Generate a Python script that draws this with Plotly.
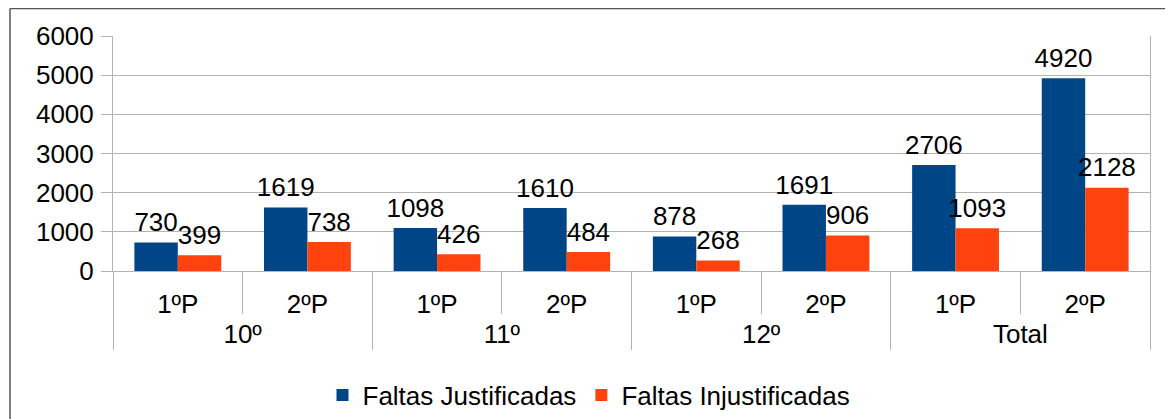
import plotly.graph_objects as go

# data
anos = ["10º", "10º", "11º", "11º", "12º", "12º", "Total", "Total"]
periodos = ["1ºP", "2ºP", "1ºP", "2ºP", "1ºP", "2ºP", "1ºP", "2ºP"]
justificadas = [730, 1619, 1098, 1610, 878, 1691, 2706, 4920]
injustificadas = [399, 738, 426, 484, 268, 906, 1093, 2128]

FONT = "Liberation Sans"
FS = 26
GRID = "#b3b3b3"

# a taller (invisible) space on both sides of the inner labels pushes the
# outer level (10º, 11º...) a bit further down, like in LibreOffice
esp = '<span style="font-size:34px"> </span>'
periodos_txt = [esp + p + esp for p in periodos]
xcat = [anos, periodos_txt]

series = [
    ("Faltas Justificadas", justificadas, "#004586"),
    ("Faltas Injustificadas", injustificadas, "#ff420e"),
]

fig = go.Figure()
for i, (nome, vals, cor) in enumerate(series):
    fig.add_trace(go.Bar(
        x=xcat, y=vals, name=nome,
        marker_color=cor, marker_line_width=0, offsetgroup=str(i),
    ))
# value labels: small invisible markers keep the text a bit above the bar
for i, (nome, vals, cor) in enumerate(series):
    fig.add_trace(go.Scatter(
        x=xcat, y=vals, mode="markers+text", showlegend=False,
        text=[str(v) for v in vals], textposition="top center",
        textfont=dict(size=FS, color="black"), offsetgroup=str(i),
        marker=dict(size=6, opacity=0), cliponaxis=False, hoverinfo="skip",
    ))

# the page has an 8px body margin, so work in window pixels and shift
W, H = 1173, 419
OFF = 8
FW, FH = W - OFF, H - OFF
# plot area in window pixels
L, R, T, B = 113, 1150, 35.5, 271.5
pw, ph = R - L, B - T

def px(x):
    return (x - L) / pw

def py(y):
    return (B - y) / ph

fig.update_layout(
    width=FW, height=FH,
    margin=dict(l=L - OFF, r=FW - (R - OFF), t=T - OFF, b=FH - (B - OFF),
                autoexpand=False),
    paper_bgcolor="white", plot_bgcolor="white",
    font=dict(family=FONT, size=FS, color="black"),
    barmode="group", bargap=0.33, bargroupgap=0,
    scattermode="group", scattergap=0.33,
    showlegend=True,
    legend=dict(orientation="h", xref="container", yref="container",
                x=(589 - OFF) / FW, xanchor="center",
                y=(H - 395) / FH, yanchor="middle", font=dict(size=FS),
                itemwidth=30, tracegroupgap=0),
    xaxis=dict(
        type="multicategory", showgrid=False,
        ticks="outside", ticklen=42, tickcolor=GRID, tickwidth=1,
        tickson="boundaries", ticklabelstandoff=10,
        showdividers=True, dividercolor=GRID, dividerwidth=1,
        showline=True, linecolor=GRID, linewidth=1,
        tickfont=dict(size=FS),
    ),
    yaxis=dict(
        range=[0, 6000], dtick=1000, showgrid=True, gridcolor=GRID,
        gridwidth=1, zeroline=False,
        showline=True, linecolor=GRID, linewidth=1, mirror=True,
        ticks="outside", ticklen=11, tickcolor=GRID, ticklabelstandoff=2,
        tickfont=dict(size=FS),
    ),
    shapes=[
        dict(type="line", xref="paper", yref="paper",
             x0=px(10), x1=px(10), y0=py(H + 5), y1=py(8),
             line=dict(color="#555555", width=1.5)),
        dict(type="line", xref="paper", yref="paper",
             x0=px(10), x1=px(W + 5), y0=py(8), y1=py(8),
             line=dict(color="#555555", width=1.5)),
    ],
)

fig.write_html("out.html")
